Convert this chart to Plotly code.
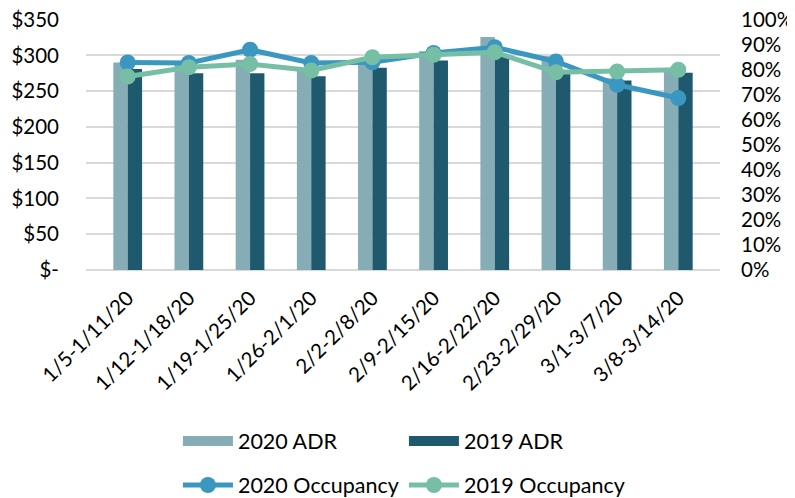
import plotly.graph_objects as go

weeks = ["1/5-1/11/20", "1/12-1/18/20", "1/19-1/25/20", "1/26-2/1/20", "2/2-2/8/20",
         "2/9-2/15/20", "2/16-2/22/20", "2/23-2/29/20", "3/1-3/7/20", "3/8-3/14/20"]
adr_2020 = [290, 289, 294, 282, 290, 306, 326, 299, 268, 278]
adr_2019 = [281, 275, 275, 271, 283, 293, 298, 278, 265, 276]
occ_2020 = [0.829, 0.827, 0.88, 0.827, 0.83, 0.867, 0.89, 0.833, 0.74, 0.687]
occ_2019 = [0.773, 0.81, 0.823, 0.797, 0.85, 0.86, 0.87, 0.79, 0.793, 0.80]

adr_ticks = [0, 50, 100, 150, 200, 250, 300, 350]
adr_ticktext = ["$-", "$50", "$100", "$150", "$200", "$250", "$300", "$350"]

C20_BAR, C19_BAR = "#86ACB6", "#1F596D"
C20_LINE, C19_LINE = "#3A97C0", "#76BFA4"

FONT = "Lato"
FS = 20.5
fig = go.Figure()
fig.add_trace(go.Bar(x=weeks, y=adr_2020, name="2020 ADR", marker_color=C20_BAR,
                     marker_line_width=0, showlegend=False))
fig.add_trace(go.Bar(x=weeks, y=adr_2019, name="2019 ADR", marker_color=C19_BAR,
                     marker_line_width=0, showlegend=False))
# legend-only entries giving the wide rectangular swatches of the bar series
fig.add_trace(go.Scatter(x=[None], y=[None], name="2020 ADR", mode="lines",
                         line=dict(color=C20_BAR, width=14), legend="legend"))
fig.add_trace(go.Scatter(x=[None], y=[None], name="2019 ADR", mode="lines",
                         line=dict(color=C19_BAR, width=14), legend="legend"))
fig.add_trace(go.Scatter(x=weeks, y=occ_2020, name="2020 Occupancy", yaxis="y2",
                         mode="lines+markers", line=dict(color=C20_LINE, width=5),
                         marker=dict(size=16, color=C20_LINE), legend="legend2"))
fig.add_trace(go.Scatter(x=weeks, y=occ_2019, name="2019 Occupancy", yaxis="y2",
                         mode="lines+markers", line=dict(color=C19_LINE, width=5),
                         marker=dict(size=16, color=C19_LINE), legend="legend2"))

YMAX = 351
# page body has an 8px margin, so the figure is sized/offset to compensate
fig.update_layout(
    width=787, height=490,
    margin=dict(l=78, r=75, t=11, b=228, autoexpand=False),
    paper_bgcolor="white", plot_bgcolor="white",
    font=dict(family=FONT, size=FS, color="#000000"),
    barmode="group", bargap=0.53, bargroupgap=0,
    xaxis=dict(tickangle=-45, showgrid=False, showline=False, ticks="",
               automargin=False, tickfont=dict(size=FS), ticklabelstandoff=11),
    yaxis=dict(range=[0, YMAX], tickvals=adr_ticks, ticktext=adr_ticktext,
               showgrid=True, gridcolor="#D9D9D9", gridwidth=1.5, zeroline=True,
               zerolinecolor="#D9D9D9", zerolinewidth=1.5, showline=False, ticks="",
               automargin=False, ticklabelstandoff=26, ticklabeloverflow="allow"),
    yaxis2=dict(range=[0, YMAX / 350], dtick=0.1, tickformat=".0%", overlaying="y",
                side="right", showgrid=False, zeroline=False, showline=False, ticks="",
                automargin=False, ticklabelstandoff=20, ticklabeloverflow="allow"),
    legend=dict(orientation="h", x=0.145, xanchor="left", y=-0.6, yanchor="top",
                entrywidth=161, entrywidthmode="pixels", itemwidth=50,
                font=dict(size=21.5), bgcolor="rgba(0,0,0,0)"),
    legend2=dict(orientation="h", x=0.145, xanchor="left", y=-0.775, yanchor="top",
                 entrywidth=161, entrywidthmode="pixels", itemwidth=50,
                 font=dict(size=21.5), bgcolor="rgba(0,0,0,0)"),
)

fig.write_html("out.html")
